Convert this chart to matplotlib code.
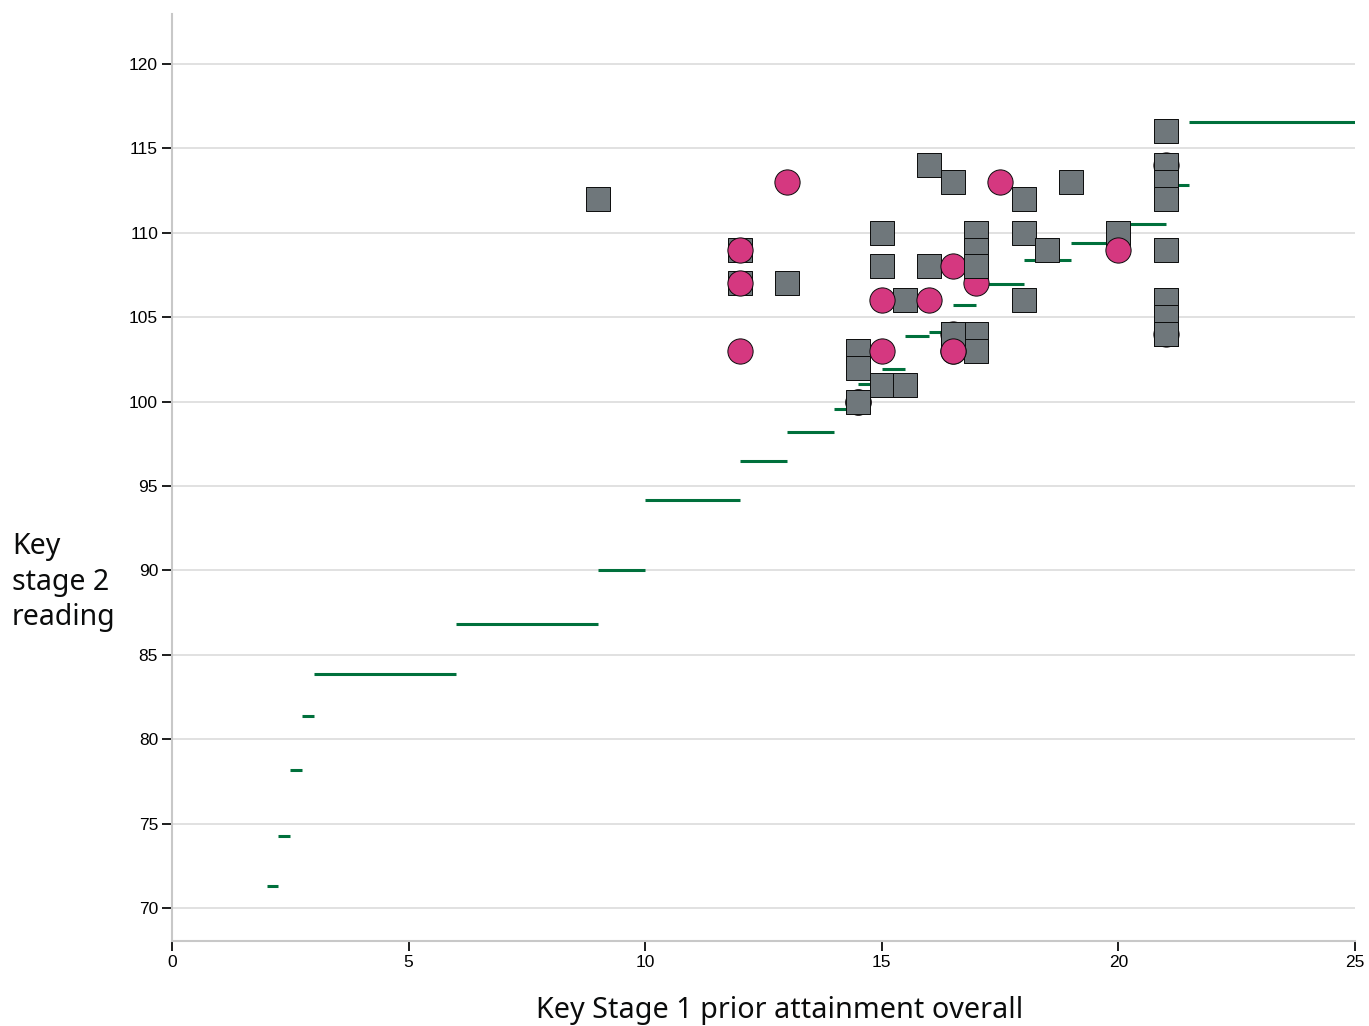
import matplotlib.pyplot as plt

# step line (prior attainment bands): start, end, average KS2 score
band_start = [2.0, 2.25, 2.5, 2.75, 3, 6, 9, 10, 12, 13, 14, 14.5, 14.75, 15, 15.5, 16,
              16.5, 17, 18, 19, 20, 21, 21.5]
band_end = [2.25, 2.5, 2.75, 3.0, 6, 9, 10, 12, 13, 14, 14.5, 14.75, 15, 15.5, 16, 16.5,
            17, 18, 19, 20, 21, 21.5, 25]
band_score = [71.3, 74.27, 78.18, 81.36, 83.86, 86.82, 90.02, 94.17, 96.48, 98.2, 99.56,
              101.04, 101.5, 101.95, 103.89, 104.09, 105.7, 106.93, 108.37, 109.41, 110.5,
              112.81, 116.58]

# pupils, in drawing order ("s" = grey square group, "c" = pink circle group)
pupil_group = ["c", "c", "c", "c", "s", "s", "s", "s", "s", "s", "s", "s", "s", "s", "s",
               "s", "s", "s", "s", "s", "s", "s", "s", "s", "s", "s", "s", "s", "s", "s",
               "s", "s", "s", "s", "s", "s", "s", "s", "c", "c", "c", "c", "c", "c", "c",
               "c", "c", "c", "c", "c", "c"]
pupil_ks1 = [21, 16.5, 14.5, 21, 9, 13, 12, 12, 16, 16.5, 18, 19, 21, 21, 21, 21, 15, 17,
             17, 18, 18.5, 20, 21, 15, 16, 17, 15.5, 18, 21, 21, 21, 16.5, 17, 17, 14.5,
             14.5, 15, 15.5, 14.5, 13, 12, 12, 12, 17.5, 16.5, 17, 20, 15, 16, 15, 16.5]
pupil_ks2 = [104, 104, 100, 114, 112, 107, 109, 107, 114, 113, 112, 113, 116, 114, 113,
             112, 110, 110, 109, 110, 109, 110, 109, 108, 108, 108, 106, 106, 106, 105,
             104, 104, 104, 103, 103, 102, 101, 101, 100, 113, 109, 107, 103, 113, 108,
             107, 109, 106, 106, 103, 103]

# squares that sit on top of some circles
top_squares_ks1 = [17, 14.5, 16.5, 21]
top_squares_ks2 = [108, 100, 104, 104]

green = "#00703c"
grey = "#6f777b"
pink = "#d53880"

fig = plt.figure(figsize=(13.69, 10.26), dpi=100)
ax = fig.add_axes([0.1256, 0.0828, 0.8642, 0.9036])

for x0, x1, y in zip(band_start, band_end, band_score):
    ax.plot([x0, x1], [y, y], color=green, lw=2.2, solid_capstyle="butt", zorder=2)

z = 3
for g, x, y in zip(pupil_group, pupil_ks1, pupil_ks2):
    if g == "s":
        ax.scatter(x, y, marker="s", s=280, color=grey, edgecolor="#0b0c0c",
                   linewidth=0.7, zorder=z)
    else:
        ax.scatter(x, y, marker="o", s=330, color=pink, edgecolor="#0b0c0c",
                   linewidth=0.7, zorder=z)
    z += 1

ax.scatter(top_squares_ks1, top_squares_ks2, marker="s", s=280, color=grey,
           edgecolor="#0b0c0c", linewidth=0.7, zorder=z)
ax.scatter([16.5], [103], marker="o", s=330, color=pink, edgecolor="#0b0c0c",
           linewidth=0.7, zorder=z + 1)

ax.set_xlim(0, 25)
ax.set_ylim(68.05, 122.95)
ax.set_xticks([0, 5, 10, 15, 20, 25])
ax.set_yticks(range(70, 121, 5))
ax.grid(axis="y", color="#dcdcdc", lw=1.2)
ax.set_axisbelow(True)
for side in ["top", "right"]:
    ax.spines[side].set_visible(False)
for side in ["left", "bottom"]:
    ax.spines[side].set_color("#c8c8c8")
    ax.spines[side].set_linewidth(1.5)
ax.tick_params(length=7, width=1.3, color="#0b0c0c", labelsize=12.5, pad=3,
               labelfontfamily="Liberation Sans")

fig.text(0.0088, 0.4327, "Key\nstage 2\nreading", fontsize=20.5, family="Noto Sans",
         ha="left", va="center", linespacing=1.3, color="#0b0c0c")
fig.text(0.5697, 0.0155, "Key Stage 1 prior attainment overall", fontsize=20.7,
         family="Noto Sans", ha="center", va="center", color="#0b0c0c")

fig.savefig("out.png", dpi=100)
